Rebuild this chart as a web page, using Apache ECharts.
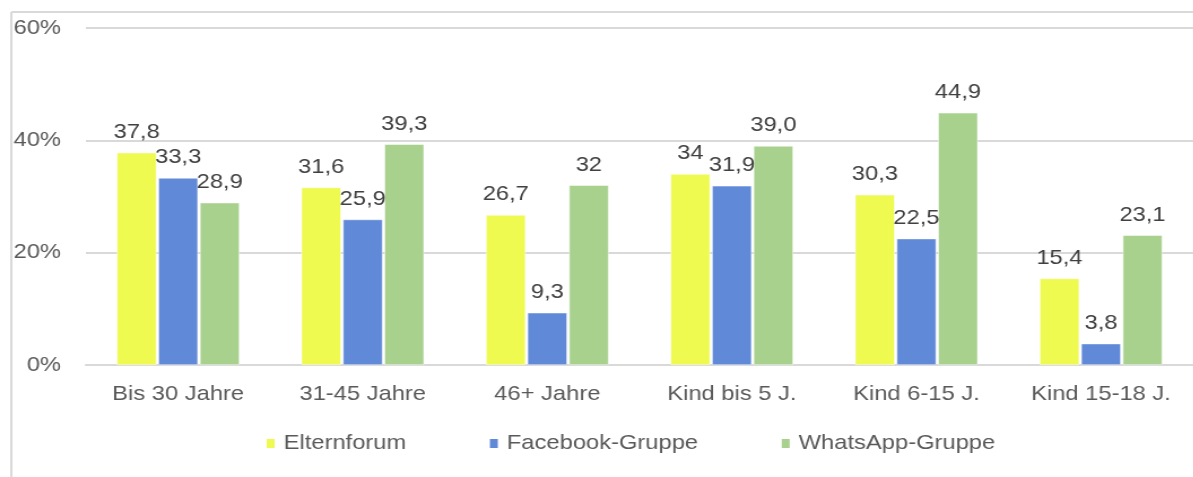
<!DOCTYPE html>
<html>
<head>
<meta charset="utf-8">
<script src="https://cdn.jsdelivr.net/npm/echarts@6/dist/echarts.min.js"></script>
<style>
	html, body { margin: 0; padding: 0; background: #fff; overflow: hidden; }
	/* the original picture is slightly stretched horizontally */
	#chart { width: 1056px; height: 477px; transform: scaleX(1.13); transform-origin: 0 0; }
</style>
</head>
<body>
<div id="chart"></div>
<script>
const categories = ["Bis 30 Jahre", "31-45 Jahre", "46+ Jahre", "Kind bis 5 J.", "Kind 6-15 J.", "Kind 15-18 J."];
const seriesNames = ["Elternforum", "Facebook-Gruppe", "WhatsApp-Gruppe"];
const elternforum = [37.8, 31.6, 26.7, 34, 30.3, 15.4];
const facebook = [33.3, 25.9, 9.3, 31.9, 22.5, 3.8];
const whatsapp = [28.9, 39.3, 32, 39.0, 44.9, 23.1];
const elternforumLabels = ["37,8", "31,6", "26,7", "34", "30,3", "15,4"];
const facebookLabels = ["33,3", "25,9", "9,3", "31,9", "22,5", "3,8"];
const whatsappLabels = ["28,9", "39,3", "32", "39,0", "44,9", "23,1"];
const yTicks = [0, 20, 40, 60];

const colors = ["#eefa4f", "#6089d8", "#a9d18e"];
const font = "'Liberation Sans', Arial, sans-serif";

let _chart = echarts.init(document.getElementById("chart"));

function makeSeries(name, values, labels, color) {
	return {
		name: name,
		type: "bar",
		data: values,
		barWidth: 35,
		barGap: "5%",
		itemStyle: {
			color: color,
			borderColor: "#ffffff",
			borderWidth: 0.5
		},
		label: {
			show: true,
			position: "top",
			distance: 10,
			color: "#404040",
			fontSize: 21,
			fontFamily: font,
			formatter: function (p) {
				return labels[p.dataIndex];
			}
		}
	};
}

_chart.setOption({
	animation: false,
	color: colors,
	grid: {
		left: 76,
		right: -2,
		top: 28,
		bottom: 112,
		containLabel: false
	},
	legend: {
		top: 428,
		left: 229,
		itemWidth: 9,
		itemHeight: 11,
		itemGap: 72,
		icon: "rect",
		textStyle: {
			color: "#595959",
			fontSize: 21,
			fontFamily: font,
			padding: [0, 0, 0, 2]
		},
		data: seriesNames
	},
	xAxis: {
		type: "category",
		data: categories,
		axisLine: { lineStyle: { color: "#d9d9d9", width: 2 } },
		axisTick: { show: false },
		axisLabel: {
			color: "#595959",
			fontSize: 21,
			fontFamily: font,
			margin: 19
		}
	},
	yAxis: {
		type: "value",
		min: yTicks[0],
		max: yTicks[yTicks.length - 1],
		interval: 20,
		axisLine: { show: false },
		axisTick: { show: false },
		splitLine: { lineStyle: { color: "#d9d9d9", width: 2 } },
		axisLabel: {
			color: "#595959",
			fontSize: 21,
			fontFamily: font,
			margin: 22,
			formatter: "{value}%"
		}
	},
	graphic: [
		{
			type: "line",
			shape: { x1: 10, y1: 12, x2: 1056, y2: 12 },
			style: { stroke: "#d9d9d9", lineWidth: 2 }
		},
		{
			type: "line",
			shape: { x1: 10, y1: 12, x2: 10, y2: 477 },
			style: { stroke: "#d9d9d9", lineWidth: 2 }
		}
	],
	series: [
		makeSeries(seriesNames[0], elternforum, elternforumLabels, colors[0]),
		makeSeries(seriesNames[1], facebook, facebookLabels, colors[1]),
		makeSeries(seriesNames[2], whatsapp, whatsappLabels, colors[2])
	]
});
</script>
</body>
</html>
